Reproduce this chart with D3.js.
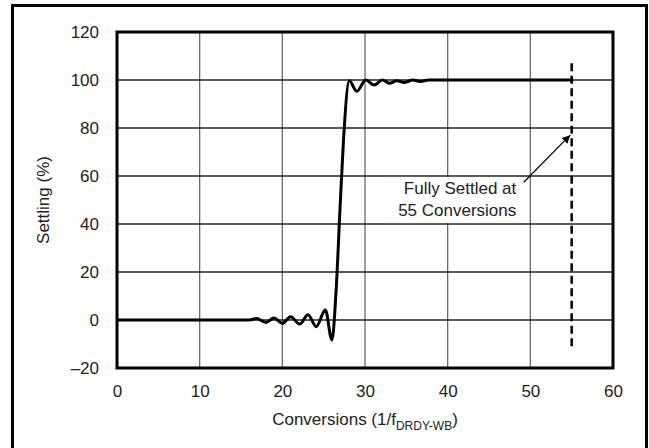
<!DOCTYPE html>
<html>
<head>
<meta charset="utf-8">
<script src="https://cdn.jsdelivr.net/npm/d3@7"></script>
<style>
  body { margin: 0; background: #fff; }
  text { font-family: "Liberation Sans", Arial, sans-serif; fill: #222; }
</style>
</head>
<body>
<div id="chart"></div>
<script>
// settling response
let conversions = [0, 16, 16.9, 18.0, 19.0, 20.0, 21.0, 22.1, 23.1, 24.1, 25.2, 26.0, 26.5, 27.0, 27.4, 28.1, 29.0, 30.1, 31.1, 32.1, 33.0, 33.8, 34.8, 35.8, 36.7, 37.7, 55.2];
let settling = [0, 0, 0.6, -1.0, 0.8, -1.4, 1.4, -1.7, 2.2, -2.8, 4.2, -8.3, 12, 48, 75, 99.7, 95.3, 100, 97.9, 100, 98.6, 99.7, 99.0, 100, 99.4, 100, 100];
let xTicks = [0, 10, 20, 30, 40, 50, 60];
let yTicks = [-20, 0, 20, 40, 60, 80, 100, 120];
let settledAt = 55;
let dashRange = [107, -12.5];
let arrowFrom = [49.2, 57.4],
    arrowTo = [55, 77];
let noteLines = ["Fully Settled at", "55 Conversions"];

let width = 649,
    height = 448,
    margin = { left: 117, right: 36, top: 32, bottom: 80 };

let svg = d3.select("#chart")
    .append("svg")
    .attr("width", width)
    .attr("height", height);

// outer frame
svg.append("rect")
    .attr("x", 12.5)
    .attr("y", 5.5)
    .attr("width", 634)
    .attr("height", 460)
    .style("fill", "none")
    .style("stroke", "#000")
    .style("stroke-width", 3);

let x = d3.scaleLinear()
    .domain([0, 60])
    .range([margin.left, width - margin.right]);

let y = d3.scaleLinear()
    .domain([-20, 120])
    .range([height - margin.bottom, margin.top]);

// grid
svg.append("g")
    .selectAll("line")
    .data(xTicks.slice(1, -1))
    .enter()
    .append("line")
    .attr("x1", d => x(d))
    .attr("x2", d => x(d))
    .attr("y1", y(-20))
    .attr("y2", y(120))
    .style("stroke", "#6a6a6a")
    .style("stroke-width", 1.3);

svg.append("g")
    .selectAll("line")
    .data(yTicks.slice(1, -1))
    .enter()
    .append("line")
    .attr("x1", x(0))
    .attr("x2", x(60))
    .attr("y1", d => y(d))
    .attr("y2", d => y(d))
    .style("stroke", "#222")
    .style("stroke-width", 1.3);

// axes (labels only, no tick marks)
let xAxis = svg.append("g")
    .attr("transform", "translate(0," + y(-20) + ")")
    .call(d3.axisBottom(x).tickValues(xTicks).tickSize(0).tickPadding(17).tickFormat(d3.format("d")));

let yAxis = svg.append("g")
    .attr("transform", "translate(" + x(0) + ",0)")
    .call(d3.axisLeft(y).tickValues(yTicks).tickSize(0).tickPadding(18)
        .tickFormat(d => d < 0 ? "\u2013" + Math.abs(d) : d));

[xAxis, yAxis].forEach(function (a) {
    a.select(".domain").remove();
    a.selectAll("text")
        .style("font-size", "17px")
        .style("font-family", "'Liberation Sans', Arial, sans-serif")
        .style("fill", "#222");
});

// note box with white background behind gridlines
let noteRight = x(48.3);
svg.append("rect")
    .attr("x", x(32.3))
    .attr("y", y(59.6))
    .attr("width", noteRight - x(32.3) + 3)
    .attr("height", y(40.4) - y(59.6))
    .style("fill", "#fff");

svg.append("g")
    .selectAll("text")
    .data(noteLines)
    .enter()
    .append("text")
    .attr("x", noteRight)
    .attr("y", (d, i) => y(52.3) + i * 21.5)
    .style("text-anchor", "end")
    .style("font-size", "17px")
    .text(d => d);

// plot border
svg.append("rect")
    .attr("x", x(0))
    .attr("y", y(120))
    .attr("width", x(60) - x(0))
    .attr("height", y(-20) - y(120))
    .style("fill", "none")
    .style("stroke", "#000")
    .style("stroke-width", 3);

// response curve
let line = d3.line()
    .curve(d3.curveMonotoneX)
    .x((d, i) => x(conversions[i]))
    .y(d => y(d));

svg.append("path")
    .datum(settling)
    .attr("d", line)
    .style("fill", "none")
    .style("stroke", "#000")
    .style("stroke-width", 3)
    .style("stroke-linejoin", "round");

// fully settled marker
svg.append("line")
    .attr("x1", x(settledAt))
    .attr("x2", x(settledAt))
    .attr("y1", y(dashRange[0]))
    .attr("y2", y(dashRange[1]))
    .style("stroke", "#000")
    .style("stroke-width", 2.5)
    .style("stroke-dasharray", "8,4.5");

svg.append("defs")
    .append("marker")
    .attr("id", "head")
    .attr("viewBox", "0 0 10 10")
    .attr("refX", 10)
    .attr("refY", 5)
    .attr("markerWidth", 13)
    .attr("markerHeight", 8)
    .attr("markerUnits", "userSpaceOnUse")
    .attr("orient", "auto")
    .append("path")
    .attr("d", "M0,0 L10,5 L0,10 Z")
    .style("fill", "#000");

svg.append("line")
    .attr("x1", x(arrowFrom[0]))
    .attr("y1", y(arrowFrom[1]))
    .attr("x2", x(arrowTo[0]) - 1.5)
    .attr("y2", y(arrowTo[1]))
    .style("stroke", "#000")
    .style("stroke-width", 1.2)
    .attr("marker-end", "url(#head)");

// axis titles
let xt = svg.append("text")
    .attr("x", (x(0) + x(60)) / 2)
    .attr("y", 425)
    .style("text-anchor", "middle")
    .style("font-size", "17px");
xt.append("tspan").text("Conversions (1/f");
xt.append("tspan").attr("dy", 5).style("font-size", "12px").text("DRDY-WB");
xt.append("tspan").attr("dy", -5).text(")");

svg.append("text")
    .attr("transform", "translate(49," + (y(50)) + ") rotate(-90)")
    .style("text-anchor", "middle")
    .style("font-size", "17px")
    .text("Settling (%)");
</script>
</body>
</html>
